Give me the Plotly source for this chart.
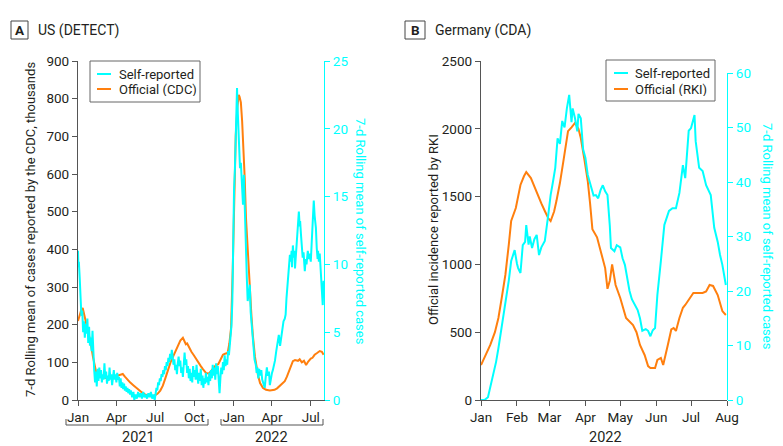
import plotly.graph_objects as go

# ---------------- DATA ----------------
# Panel A: US (DETECT)
us_official_dates = [
    "2021-01-01","2021-01-05","2021-01-09","2021-01-12","2021-01-16","2021-01-20","2021-01-25","2021-01-31",
    "2021-02-05","2021-02-09","2021-02-12","2021-02-17","2021-02-22","2021-03-01","2021-03-08","2021-03-15",
    "2021-03-22","2021-03-29","2021-04-05","2021-04-11","2021-04-16","2021-04-21","2021-04-27","2021-05-03",
    "2021-05-10","2021-05-17","2021-05-24","2021-05-31","2021-06-07","2021-06-14","2021-06-21","2021-06-26",
    "2021-07-01","2021-07-07","2021-07-13","2021-07-19","2021-07-25","2021-07-31","2021-08-06","2021-08-12",
    "2021-08-18","2021-08-23","2021-08-29","2021-09-04","2021-09-08","2021-09-11","2021-09-14","2021-09-18",
    "2021-09-24","2021-09-30","2021-10-05","2021-10-11","2021-10-16","2021-10-21","2021-10-28","2021-11-04",
    "2021-11-09","2021-11-14","2021-11-20","2021-11-26","2021-12-02","2021-12-07","2021-12-12","2021-12-18",
    "2021-12-22","2021-12-26","2021-12-30","2022-01-03","2022-01-06","2022-01-10","2022-01-13","2022-01-15",
    "2022-01-18","2022-01-21","2022-01-23","2022-01-27","2022-01-30","2022-02-03","2022-02-08","2022-02-12",
    "2022-02-15","2022-02-20","2022-02-27","2022-03-04","2022-03-11","2022-03-18","2022-03-27","2022-04-07",
    "2022-04-13","2022-04-19","2022-04-25","2022-05-01","2022-05-06","2022-05-10","2022-05-15","2022-05-20",
    "2022-05-25","2022-06-01","2022-06-05","2022-06-10","2022-06-15","2022-06-20","2022-06-25","2022-07-01",
    "2022-07-05","2022-07-10","2022-07-15","2022-07-22","2022-07-27","2022-07-31"]
us_official_k = [
    210, 225, 240, 244, 225, 200, 175, 150,
    115, 90, 77, 68, 62, 60, 58, 57,
    60, 63, 65, 68, 69, 62, 54, 47,
    40, 33, 26, 20, 15, 12, 10, 9,
    12, 17, 25, 38, 58, 80, 100, 115,
    130, 145, 158, 165, 155, 148, 150, 140,
    128, 118, 108, 98, 90, 82, 72, 70,
    76, 82, 92, 95, 108, 120, 123, 125,
    150, 191, 350, 560, 703, 780, 810, 805,
    790, 740, 695, 590, 483, 390, 305, 220,
    173, 115, 67, 45, 32, 27, 25, 27,
    31, 37, 43, 50, 62, 75, 90, 103,
    106, 104, 108, 100, 104, 93, 102, 110,
    112, 120, 124, 130, 128, 120]

us_self_dates = [
    "2021-01-01","2021-01-02","2021-01-03","2021-01-05","2021-01-07","2021-01-09","2021-01-11","2021-01-13",
    "2021-01-15","2021-01-17","2021-01-19","2021-01-21","2021-01-23","2021-01-25","2021-01-27","2021-01-29",
    "2021-01-31","2021-02-02","2021-02-04","2021-02-06","2021-02-08","2021-02-10","2021-02-12","2021-02-14",
    "2021-02-16","2021-02-18","2021-02-20","2021-02-22","2021-02-24","2021-02-26","2021-02-28","2021-03-02",
    "2021-03-04","2021-03-06","2021-03-08","2021-03-10","2021-03-12","2021-03-14","2021-03-16","2021-03-18",
    "2021-03-20","2021-03-22","2021-03-24","2021-03-26","2021-03-28","2021-03-30","2021-04-01","2021-04-03",
    "2021-04-05","2021-04-07","2021-04-09","2021-04-11","2021-04-13","2021-04-15","2021-04-17","2021-04-19",
    "2021-04-21","2021-04-23","2021-04-25","2021-04-27","2021-04-29","2021-05-01","2021-05-03","2021-05-05",
    "2021-05-08","2021-05-11","2021-05-13","2021-05-16","2021-05-19","2021-05-22","2021-05-25","2021-05-28",
    "2021-05-31","2021-06-03","2021-06-06","2021-06-09","2021-06-12","2021-06-15","2021-06-18","2021-06-21",
    "2021-06-24","2021-06-27","2021-06-30","2021-07-02","2021-07-04","2021-07-06","2021-07-08","2021-07-10",
    "2021-07-12","2021-07-14","2021-07-16","2021-07-18","2021-07-20","2021-07-22","2021-07-24","2021-07-26",
    "2021-07-28","2021-07-30","2021-08-01","2021-08-03","2021-08-05","2021-08-07","2021-08-09","2021-08-11",
    "2021-08-13","2021-08-15","2021-08-17","2021-08-19","2021-08-21","2021-08-23","2021-08-25","2021-08-27",
    "2021-08-29","2021-08-31","2021-09-02","2021-09-04","2021-09-06","2021-09-08","2021-09-10","2021-09-12",
    "2021-09-14","2021-09-16","2021-09-18","2021-09-20","2021-09-22","2021-09-24","2021-09-26","2021-09-28",
    "2021-09-30","2021-10-02","2021-10-04","2021-10-06","2021-10-08","2021-10-10","2021-10-12","2021-10-14",
    "2021-10-16","2021-10-18","2021-10-20","2021-10-22","2021-10-24","2021-10-26","2021-10-28","2021-10-30",
    "2021-11-01","2021-11-03","2021-11-05","2021-11-07","2021-11-09","2021-11-11","2021-11-13","2021-11-15",
    "2021-11-17","2021-11-19","2021-11-21","2021-11-23","2021-11-25","2021-11-27","2021-11-29","2021-12-01",
    "2021-12-03","2021-12-05","2021-12-07","2021-12-09","2021-12-11","2021-12-13","2021-12-15","2021-12-17",
    "2021-12-19","2021-12-21","2021-12-23","2021-12-25","2021-12-27","2021-12-29","2021-12-31","2022-01-02",
    "2022-01-04","2022-01-06","2022-01-08","2022-01-09","2022-01-10","2022-01-12","2022-01-14","2022-01-16",
    "2022-01-18","2022-01-20","2022-01-22","2022-01-23","2022-01-25","2022-01-27","2022-01-29","2022-01-30",
    "2022-02-01","2022-02-03","2022-02-05","2022-02-08","2022-02-10","2022-02-12","2022-02-15","2022-02-17",
    "2022-02-19","2022-02-22","2022-02-24","2022-02-26","2022-02-28","2022-03-02","2022-03-04","2022-03-07",
    "2022-03-09","2022-03-12","2022-03-15","2022-03-17","2022-03-20","2022-03-22","2022-03-25","2022-03-27",
    "2022-03-29","2022-04-01","2022-04-03","2022-04-06","2022-04-08","2022-04-11","2022-04-14","2022-04-17",
    "2022-04-20","2022-04-22","2022-04-25","2022-04-28","2022-05-01","2022-05-03","2022-05-05","2022-05-07",
    "2022-05-09","2022-05-11","2022-05-13","2022-05-15","2022-05-17","2022-05-18","2022-05-20","2022-05-22",
    "2022-05-24","2022-05-25","2022-05-27","2022-05-29","2022-05-31","2022-06-03","2022-06-05","2022-06-06",
    "2022-06-08","2022-06-10","2022-06-12","2022-06-14","2022-06-15","2022-06-17","2022-06-19","2022-06-21",
    "2022-06-24","2022-06-26","2022-06-28","2022-07-01","2022-07-03","2022-07-05","2022-07-07","2022-07-08",
    "2022-07-10","2022-07-12","2022-07-13","2022-07-15","2022-07-17","2022-07-18","2022-07-20","2022-07-22",
    "2022-07-24","2022-07-26","2022-07-28","2022-07-29","2022-07-31"]
us_self_vals = [
    11.0, 9.8, 10.2, 9.0, 7.4, 6.2, 6.6, 5.0,
    5.8, 4.6, 5.6, 4.9, 6.0, 4.2, 5.4, 4.0,
    4.6, 3.6, 5.1, 3.0, 2.2, 1.3, 2.1, 1.0,
    2.3, 1.4, 2.4, 1.6, 2.2, 1.3, 1.9, 1.5,
    2.7, 1.6, 2.1, 1.2, 1.8, 1.4, 2.4, 1.5,
    1.9, 1.1, 1.7, 2.2, 1.5, 1.9, 1.3, 2.0,
    1.5, 1.7, 1.0, 1.6, 0.9, 1.3, 0.8, 1.2,
    0.7, 1.0, 0.6, 0.9, 0.5, 0.8, 0.4, 0.7,
    0.2, 0.6, 0.0, 0.4, 0.1, 0.6, 0.2, 0.5,
    0.1, 0.6, 0.2, 0.4, 0.1, 0.5, 0.2, 0.6,
    0.1, 0.4, 0.0, 0.5, 0.9, 0.7, 1.3, 1.1,
    1.6, 1.4, 1.9, 1.7, 2.2, 1.9, 2.5, 2.2,
    2.8, 2.5, 3.1, 2.8, 3.4, 3.0, 3.7, 3.2,
    2.6, 3.0, 2.2, 2.6, 1.9, 2.7, 3.2, 2.5,
    2.9, 2.0, 2.4, 1.7, 2.9, 3.5, 2.6, 3.0,
    2.0, 2.5, 1.6, 2.3, 1.4, 2.0, 1.3, 2.5,
    1.7, 2.2, 1.5, 2.6, 1.8, 1.2, 2.0, 1.4,
    2.3, 1.1, 1.8, 0.9, 1.6, 1.2, 2.0, 1.3,
    1.7, 1.1, 2.0, 1.4, 2.2, 1.6, 2.6, 1.8,
    2.4, 1.5, 2.7, 1.9, 2.5, 1.2, 0.5, 1.6,
    2.4, 1.9, 2.8, 2.2, 3.3, 2.5, 3.0, 2.6,
    3.6, 3.3, 4.2, 4.8, 5.5, 7.3, 12.0, 15.5,
    17.0, 20.5, 22.3, 23.0, 21.8, 20.1, 19.0, 17.1,
    17.5, 16.0, 15.6, 14.4, 16.6, 14.0, 12.8, 12.2,
    9.0, 7.3, 7.9, 8.5, 6.5, 5.5, 4.4, 3.8,
    3.0, 2.6, 2.0, 2.4, 1.6, 2.3, 1.8, 2.2,
    1.5, 1.2, 0.9, 1.6, 2.4, 1.8, 2.1, 1.1,
    1.6, 2.0, 2.2, 2.6, 2.9, 3.6, 4.2, 4.8,
    4.0, 4.4, 5.2, 5.8, 6.0, 6.3, 7.5, 8.2,
    9.5, 10.0, 10.7, 10.2, 11.0, 9.8, 11.4, 10.5,
    11.0, 9.7, 10.8, 11.6, 12.8, 13.9, 12.8, 13.2,
    12.2, 11.0, 10.5, 10.9, 9.9, 9.5, 10.4, 10.0,
    11.0, 10.4, 10.8, 10.2, 11.5, 13.0, 14.2, 14.7,
    13.6, 12.9, 12.7, 11.2, 10.4, 11.0, 10.2, 10.8,
    9.7, 8.5, 7.3, 7.0, 8.8]

# Panel B: Germany (CDA)
de_official_dates = [
    "2022-01-01","2022-01-05","2022-01-09","2022-01-13","2022-01-16","2022-01-19","2022-01-22","2022-01-25",
    "2022-01-27","2022-01-31","2022-02-04","2022-02-07","2022-02-09","2022-02-13","2022-02-16","2022-02-19",
    "2022-02-22","2022-02-25","2022-02-28","2022-03-02","2022-03-05","2022-03-07","2022-03-10","2022-03-13",
    "2022-03-15","2022-03-17","2022-03-20","2022-03-23","2022-03-26","2022-03-28","2022-03-31","2022-04-03",
    "2022-04-05","2022-04-07","2022-04-11","2022-04-14","2022-04-16","2022-04-18","2022-04-20","2022-04-22",
    "2022-04-24","2022-04-27","2022-05-01","2022-05-06","2022-05-12","2022-05-15","2022-05-18","2022-05-22",
    "2022-05-25","2022-05-27","2022-05-31","2022-06-02","2022-06-05","2022-06-07","2022-06-11","2022-06-14",
    "2022-06-16","2022-06-18","2022-06-21","2022-06-24","2022-06-26","2022-06-30","2022-07-03","2022-07-11",
    "2022-07-14","2022-07-17","2022-07-20","2022-07-24","2022-07-28","2022-07-31"]
de_official = [
    258, 330, 406, 500, 605, 760, 922, 1150,
    1320, 1416, 1586, 1650, 1681, 1637, 1570, 1504,
    1450, 1394, 1340, 1320, 1390, 1467, 1600, 1762,
    1870, 1983, 2010, 2043, 2000, 1932, 1780, 1615,
    1450, 1260, 1200, 1100, 1050, 973, 820, 880,
    1000, 848, 752, 605, 553, 500, 406, 332,
    250, 236, 236, 295, 310, 258, 406, 520,
    531, 509, 605, 680, 701, 752, 789, 789,
    800, 848, 841, 774, 656, 627]

de_self_dates = [
    "2022-01-01","2022-01-04","2022-01-07","2022-01-11","2022-01-14","2022-01-16","2022-01-19","2022-01-22",
    "2022-01-25","2022-01-27","2022-01-30","2022-02-01","2022-02-02","2022-02-04","2022-02-06","2022-02-08",
    "2022-02-09","2022-02-11","2022-02-12","2022-02-14","2022-02-16","2022-02-18","2022-02-20","2022-02-22",
    "2022-02-25","2022-02-28","2022-03-02","2022-03-04","2022-03-06","2022-03-08","2022-03-10","2022-03-12",
    "2022-03-14","2022-03-16","2022-03-18","2022-03-20","2022-03-21","2022-03-23","2022-03-25","2022-03-26",
    "2022-03-28","2022-03-30","2022-04-01","2022-04-03","2022-04-06","2022-04-08","2022-04-10","2022-04-12",
    "2022-04-14","2022-04-16","2022-04-18","2022-04-20","2022-04-22","2022-04-23","2022-04-26","2022-04-28",
    "2022-05-01","2022-05-03","2022-05-05","2022-05-07","2022-05-09","2022-05-11","2022-05-14","2022-05-16",
    "2022-05-18","2022-05-20","2022-05-23","2022-05-25","2022-05-27","2022-05-29","2022-05-31","2022-06-02",
    "2022-06-05","2022-06-08","2022-06-12","2022-06-15","2022-06-18","2022-06-21","2022-06-24","2022-06-26",
    "2022-06-29","2022-07-01","2022-07-04","2022-07-05","2022-07-08","2022-07-11","2022-07-14","2022-07-18",
    "2022-07-21","2022-07-24","2022-07-26","2022-07-28","2022-07-31"]
de_self = [
    0.0, 0.0, 0.5, 4.0, 7.0, 9.5, 13.5, 17.4,
    22.0, 25.5, 27.5, 25.0, 24.2, 23.3, 28.4, 29.0,
    32.1, 28.5, 30.0, 27.9, 29.5, 30.3, 26.6, 28.0,
    29.2, 34.0, 37.6, 40.0, 42.6, 48.0, 47.0, 51.2,
    50.0, 53.5, 56.0, 51.0, 53.5, 51.7, 49.3, 52.5,
    51.7, 46.0, 44.4, 41.3, 38.9, 37.5, 37.6, 37.0,
    38.5, 39.4, 38.3, 37.6, 32.0, 27.9, 27.3, 28.4,
    28.0, 26.0, 24.8, 22.5, 20.0, 18.5, 17.4, 16.5,
    15.0, 12.7, 13.0, 12.7, 11.7, 12.8, 13.2, 19.3,
    25.5, 32.1, 34.7, 35.2, 35.2, 38.0, 43.1, 40.7,
    49.4, 49.9, 52.3, 47.5, 42.6, 42.0, 39.4, 37.6,
    31.6, 29.0, 26.6, 24.8, 21.1]

us_ticks = ["2021-01-01","2021-04-01","2021-07-01","2021-10-01","2022-01-01","2022-04-01","2022-07-01"]
us_tick_text = ["Jan","Apr","Jul","Oct","Jan","Apr","Jul"]
de_ticks = ["2022-01-01","2022-02-01","2022-03-01","2022-04-01","2022-05-01","2022-06-01","2022-07-01","2022-08-01"]
de_tick_text = ["Jan","Feb","Mar","Apr","May","Jun","Jul","Aug"]

# ---------------- STYLE ----------------
W, H = 783, 446
CYAN = "#00FFFF"
ORANGE = "#FF7F0E"
AX = "#555555"
TXT = "#231F20"
FONT = "Roboto, 'Noto Sans', sans-serif"
FS = 13


def px(x):
    return x / W


def py(y):
    return 1 - y / H


fig = go.Figure()
fig.add_trace(go.Scatter(x=us_official_dates, y=us_official_k, mode="lines", name="Official (CDC)",
                         line=dict(color=ORANGE, width=2), xaxis="x", yaxis="y", showlegend=False))
fig.add_trace(go.Scatter(x=us_self_dates, y=us_self_vals, mode="lines", name="Self-reported",
                         line=dict(color=CYAN, width=2), xaxis="x", yaxis="y2", showlegend=False))
fig.add_trace(go.Scatter(x=de_official_dates, y=de_official, mode="lines", name="Official (RKI)",
                         line=dict(color=ORANGE, width=2), xaxis="x2", yaxis="y3", showlegend=False))
fig.add_trace(go.Scatter(x=de_self_dates, y=de_self, mode="lines", name="Self-reported",
                         line=dict(color=CYAN, width=2), xaxis="x2", yaxis="y4", showlegend=False))

common_axis = dict(showgrid=False, zeroline=False, showline=True, ticks="outside", ticklen=5,
                   tickwidth=1.2, linewidth=1.3, fixedrange=True, automargin=False)
ydom = [py(392), py(53)]

fig.update_layout(
    width=W, height=H, margin=dict(l=0, r=0, t=0, b=0, pad=0, autoexpand=False),
    paper_bgcolor="white", plot_bgcolor="rgba(0,0,0,0)",
    font=dict(family=FONT, size=FS, color=TXT),
    showlegend=False,
    xaxis=dict(domain=[px(70), px(316)], anchor="y", type="date",
               range=["2021-01-01", "2022-08-01"], tickvals=us_ticks, ticktext=us_tick_text,
               linecolor=AX, tickcolor=AX, tickfont=dict(size=13.5, color=TXT), **common_axis),
    yaxis=dict(domain=ydom, anchor="x", range=[0, 900], dtick=100,
               linecolor=AX, tickcolor=AX, tickfont=dict(size=13.5, color=TXT), **common_axis),
    yaxis2=dict(overlaying="y", anchor="x", side="right", range=[0, 25], dtick=5,
                linecolor=CYAN, tickcolor=CYAN, tickfont=dict(size=13.5, color=CYAN), **common_axis),
    xaxis2=dict(domain=[px(473), px(719)], anchor="y3", type="date",
                range=["2022-01-01", "2022-08-01"], tickvals=de_ticks, ticktext=de_tick_text,
                linecolor=AX, tickcolor=AX, tickfont=dict(size=13.5, color=TXT), **common_axis),
    yaxis3=dict(domain=ydom, anchor="x2", range=[0, 2500], dtick=500,
                linecolor=AX, tickcolor=AX, tickfont=dict(size=13.5, color=TXT), **common_axis),
    yaxis4=dict(domain=[py(392), py(65)], anchor="x2", side="right", range=[0, 60], dtick=10,
                linecolor=CYAN, tickcolor=CYAN, tickfont=dict(size=13.5, color=CYAN), **common_axis),
)

shapes = []
ann = []

# Panel labels
for (bx0, bx1, label, tx, title) in [(3, 20, "A", 28, "US (DETECT)"), (397, 417, "B", 425, "Germany (CDA)")]:
    shapes.append(dict(type="rect", xref="paper", yref="paper", x0=px(bx0), x1=px(bx1), y0=py(31), y1=py(13),
                       line=dict(color="#444", width=1), fillcolor="white"))
    ann.append(dict(text="<b>" + label + "</b>", x=px((bx0 + bx1) / 2), y=py(22), xref="paper", yref="paper",
                    xanchor="center", yanchor="middle", showarrow=False, font=dict(size=13.5, color=TXT)))
    ann.append(dict(text=title, x=px(tx), y=py(22), xref="paper", yref="paper",
                    xanchor="left", yanchor="middle", showarrow=False, font=dict(size=14, color=TXT)))

# Axis titles
ann.append(dict(text="7-d Rolling mean of cases reported by the CDC, thousands", x=px(22), y=py(222),
                xref="paper", yref="paper", textangle=-90, showarrow=False, xanchor="center", yanchor="middle",
                font=dict(size=FS, color=TXT)))
ann.append(dict(text="7-d Rolling mean of self-reported cases", x=px(353), y=py(223),
                xref="paper", yref="paper", textangle=90, showarrow=False, xanchor="center", yanchor="middle",
                font=dict(size=FS, color=CYAN)))
ann.append(dict(text="Official incidence reported by RKI", x=px(425), y=py(222),
                xref="paper", yref="paper", textangle=-90, showarrow=False, xanchor="center", yanchor="middle",
                font=dict(size=FS, color=TXT)))
ann.append(dict(text="7-d Rolling mean of self-reported cases", x=px(760), y=py(228),
                xref="paper", yref="paper", textangle=90, showarrow=False, xanchor="center", yanchor="middle",
                font=dict(size=FS, color=CYAN)))

# Manual legends
for (lx0, lx1, ly0, ly1, s0, s1, tx, r1, r2, lab2) in [
        (82, 192, 53, 94, 89, 103, 110, 66, 81, "Official (CDC)"),
        (598, 707, 52, 93, 606, 620, 626, 65, 81, "Official (RKI)")]:
    shapes.append(dict(type="rect", xref="paper", yref="paper", x0=px(lx0), x1=px(lx1), y0=py(ly1), y1=py(ly0),
                       line=dict(color="#666", width=1), fillcolor="white"))
    shapes.append(dict(type="line", xref="paper", yref="paper", x0=px(s0), x1=px(s1), y0=py(r1), y1=py(r1),
                       line=dict(color=CYAN, width=2)))
    shapes.append(dict(type="line", xref="paper", yref="paper", x0=px(s0), x1=px(s1), y0=py(r2), y1=py(r2),
                       line=dict(color=ORANGE, width=2)))
    ann.append(dict(text="Self-reported", x=px(tx), y=py(r1), xref="paper", yref="paper", xanchor="left",
                    yanchor="middle", showarrow=False, height=14, borderpad=0, font=dict(size=FS, color=TXT)))
    ann.append(dict(text=lab2, x=px(tx), y=py(r2), xref="paper", yref="paper", xanchor="left",
                    yanchor="middle", showarrow=False, height=14, borderpad=0, font=dict(size=FS, color=TXT)))

# Year brackets and labels
for (bx0, bx1) in [(58, 200), (213, 315)]:
    shapes.append(dict(type="path", xref="paper", yref="paper",
                       path="M {a},{t} L {a},{b} L {c},{b} L {c},{t}".format(a=px(bx0), c=px(bx1), t=py(411), b=py(417)),
                       line=dict(color=AX, width=1)))
for (xx, lab) in [(130, "2021"), (263, "2022"), (597, "2022")]:
    ann.append(dict(text=lab, x=px(xx), y=py(429), xref="paper", yref="paper", xanchor="center",
                    yanchor="middle", showarrow=False, font=dict(size=14.5, color=TXT)))

fig.update_layout(shapes=shapes, annotations=ann)
fig.write_html("out.html")
